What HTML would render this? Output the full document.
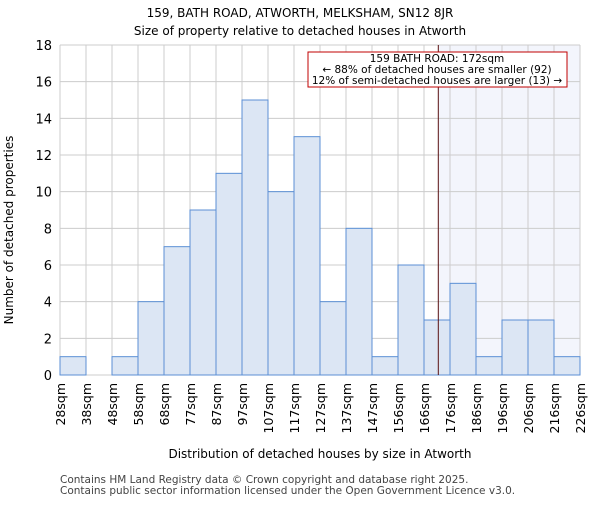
<!DOCTYPE html>
<html><head><meta charset="utf-8"><style>
body{margin:0;background:#fff;font-family:"Liberation Sans","DejaVu Sans",sans-serif;}
</style></head><body>
<svg id="chart" width="600" height="500" xmlns="http://www.w3.org/2000/svg" font-family="DejaVu Sans, Liberation Sans, sans-serif">
<text x="300" y="17" text-anchor="middle" font-size="12">159, BATH ROAD, ATWORTH, MELKSHAM, SN12 8JR</text>
<text x="300" y="35" text-anchor="middle" font-size="12">Size of property relative to detached houses in Atworth</text>
<g id="plot"></g>
<text x="320" y="458" text-anchor="middle" font-size="12">Distribution of detached houses by size in Atworth</text>
<text transform="translate(13,230) rotate(-90)" text-anchor="middle" font-size="12">Number of detached properties</text>
<text x="60" y="483" font-size="10.5" fill="#444">Contains HM Land Registry data © Crown copyright and database right 2025.</text>
<text x="60" y="494" font-size="10.5" fill="#444">Contains public sector information licensed under the Open Government Licence v3.0.</text>
</svg>
<script>
const categories=["28sqm","38sqm","48sqm","58sqm","68sqm","77sqm","87sqm","97sqm","107sqm","117sqm","127sqm","137sqm","147sqm","156sqm","166sqm","176sqm","186sqm","196sqm","206sqm","216sqm","226sqm"];
const counts=[1,0,1,4,7,9,11,15,10,13,4,8,1,6,3,5,1,3,3,1];
const yTicks=[0,2,4,6,8,10,12,14,16,18];
const markerBin=14.55;
const NS="http://www.w3.org/2000/svg";
const L=60,R=580,T=45,B=375,yMax=18,nb=counts.length;
const xs=i=>L+(R-L)*i/nb;
const ys=v=>B-(B-T)*v/yMax;
const g=document.getElementById('plot');
function mk(t,a,p){const e=document.createElementNS(NS,t);for(const k in a)e.setAttribute(k,a[k]);(p||g).appendChild(e);return e;}
let e;
e=mk('rect',{x:xs(markerBin),y:T,width:R-xs(markerBin),height:B-T,fill:'#f3f5fc'});


yTicks.forEach(v=>{e=mk('line',{x1:L,x2:R,y1:ys(v),y2:ys(v),stroke:'#ccc'});


e=mk('text',{x:L-8,y:ys(v)+5,'text-anchor':'end','font-size':13});e.textContent=v;

});
for(let i=0;i<=nb;i++){e=mk('line',{x1:xs(i),x2:xs(i),y1:T,y2:B,stroke:'#ccc'});

}
counts.forEach((v,i)=>{if(v<=0)return;e=mk('rect',{x:xs(i),y:ys(v),width:xs(i+1)-xs(i),height:B-ys(v),fill:'#dce6f4',stroke:'#5b8fd5','stroke-width':1});

});
categories.forEach((c,i)=>{e=mk('text',{transform:`translate(${xs(i)+5},383) rotate(-90)`,'text-anchor':'end','font-size':12.5});e.textContent=c;

});
e=mk('line',{x1:xs(markerBin),x2:xs(markerBin),y1:T,y2:B,stroke:'#5a1010','stroke-width':1});


const ag=mk('g',{});


mk('rect',{x:308,y:52,width:259,height:35,fill:'#fff',stroke:'#c00000','stroke-width':1},ag);
["159 BATH ROAD: 172sqm","← 88% of detached houses are smaller (92)","12% of semi-detached houses are larger (13) →"].forEach((t,k)=>{const x=mk('text',{x:437,y:62+k*11,'text-anchor':'middle','font-size':10.5},ag);x.textContent=t;});
</script>
</body></html>
